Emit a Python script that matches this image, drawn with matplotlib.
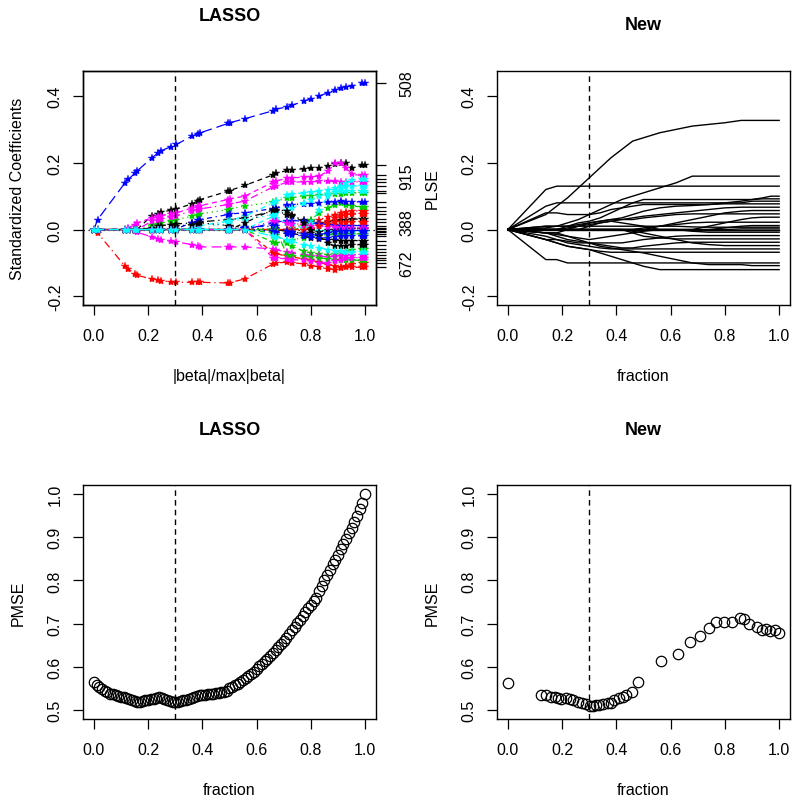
import numpy as np
import matplotlib.pyplot as plt

plt.rcParams['font.family'] = ['Liberation Sans', 'DejaVu Sans']
plt.rcParams['font.size'] = 11.5

# ---------- LASSO coefficient paths (top left) ----------
lasso_frac = [0.0, 0.014, 0.115, 0.127, 0.15, 0.159, 0.214, 0.238, 0.248, 0.283,
              0.304, 0.362, 0.384, 0.393, 0.495, 0.501, 0.556, 0.661, 0.67, 0.712,
              0.73, 0.774, 0.802, 0.83, 0.863, 0.89, 0.91, 0.93, 0.953, 0.99, 1.0]

lasso_coef_a = [
    [0] * 6 + [0.042, 0.048, 0.052, 0.058, 0.062, 0.077, 0.087, 0.09, 0.115, 0.117, 0.132, 0.164, 0.168,
               0.177, 0.179, 0.182, 0.183, 0.185, 0.19, 0.196, 0.2, 0.198, 0.185, 0.193, 0.194],
    [0, -0.01, -0.11, -0.118, -0.133, -0.137, -0.148, -0.151, -0.153, -0.157, -0.158, -0.158, -0.158,
     -0.158, -0.16, -0.159, -0.148, -0.103, -0.1, -0.098, -0.099, -0.103, -0.108, -0.112, -0.118, -0.12,
     -0.115, -0.108, -0.103, -0.1, -0.1],
    [0] * 6 + [0.015, 0.018, 0.02, 0.025, 0.03, 0.04, 0.045, 0.047, 0.06, 0.062, 0.07, 0.083, 0.085, 0.094,
               0.096, 0.1, 0.102, 0.104, 0.106, 0.107, 0.108, 0.109, 0.109, 0.11, 0.11],
    [0, 0.03, 0.14, 0.15, 0.168, 0.175, 0.215, 0.23, 0.236, 0.248, 0.255, 0.28, 0.287, 0.29, 0.318, 0.32,
     0.332, 0.356, 0.36, 0.368, 0.372, 0.385, 0.392, 0.4, 0.41, 0.418, 0.424, 0.428, 0.43, 0.438, 0.439],
    [0] * 11 + [0.005, 0.01, 0.012, 0.025, 0.027, 0.04, 0.08, 0.085, 0.105, 0.107, 0.11, 0.112, 0.115,
                0.12, 0.125, 0.128, 0.13, 0.13, 0.131, 0.131],
    [0, 0, 0, 0.005, 0.015, 0.02, 0.035, 0.04, 0.042, 0.047, 0.05, 0.065, 0.07, 0.072, 0.09, 0.092, 0.1,
     0.142, 0.145, 0.154, 0.155, 0.157, 0.158, 0.16, 0.175, 0.2, 0.198, 0.185, 0.165, 0.162, 0.162],
    [0] * 6 + [0.005, 0.01, 0.012, 0.015, 0.017, 0.02, 0.022, 0.023, 0.03, 0.03, 0.035, 0.055, 0.057, 0.045,
               0.04, 0.03, 0.025, 0.02, 0.022, 0.025, 0.028, 0.03, 0.031, 0.032, 0.032],
    [0] * 19 + [0.0, 0.005, 0.015, 0.022, 0.03, 0.038, 0.045, 0.05, 0.053, 0.055, 0.057, 0.057],
    [0] * 17 + [0.0, 0.0, -0.005, -0.003, 0.01, 0.03, 0.05, 0.065, 0.075, 0.08, 0.075, 0.07, 0.068, 0.068],
    [0] * 10 + [0.003, 0.02, 0.028, 0.03, 0.045, 0.047, 0.05, 0.063, 0.065, 0.074, 0.075, 0.077, 0.078,
                0.08, 0.082, 0.083, 0.085, 0.084, 0.083, 0.083, 0.083],
]
lasso_coef_b = [
    [0] * 17 + [0.04, 0.035, 0.02, 0.015, 0.004, 0.0, -0.003, -0.005, -0.006, -0.007, -0.007, -0.007,
                -0.007, -0.007],
    [0] * 6 + [0.025, 0.03, 0.032, 0.038, 0.042, 0.055, 0.06, 0.062, 0.075, 0.077, 0.085, 0.128, 0.13, 0.142,
               0.142, 0.143, 0.143, 0.144, 0.144, 0.144, 0.143, 0.143, 0.143, 0.143, 0.143],
    [0] * 10 + [0.01, 0.015, 0.018, 0.02, 0.012, 0.011, 0.006, 0.0, 0.0, -0.005, -0.008, -0.01, -0.01,
                -0.006, -0.002, 0.0, 0.001, 0.002, 0.002, 0.002, 0.002],
    [0] * 21 + [0.0, 0.005, 0.015, 0.025, 0.035, 0.04, 0.045, 0.046, 0.047, 0.047],
    [0] * 17 + [-0.038, -0.04, -0.035, -0.03, -0.025, -0.02, -0.017, -0.015, -0.014, -0.013, -0.013,
                -0.013, -0.013, -0.013],
    [0] * 17 + [0.02, 0.022, 0.027, 0.027, 0.025, 0.02, 0.018, 0.015, 0.013, 0.012, 0.012, 0.012, 0.012,
                0.012],
    [0] * 22 + [0.02, 0.06, 0.1, 0.12, 0.13, 0.14, 0.148, 0.152, 0.152],
    [0] * 17 + [0.027, 0.025, 0.02, 0.018, 0.015, 0.012, 0.01, 0.008, 0.007, 0.006, 0.006, 0.006, 0.006,
                0.006],
    [0] * 19 + [-0.005, -0.01, -0.02, -0.025, -0.028, -0.03, -0.032, -0.033, -0.033, -0.033, -0.033, -0.033],
    [0] * 22 + [0.0, 0.01, 0.018, 0.022, 0.023, 0.023, 0.023, 0.023, 0.023],
]
lasso_coef_c = [
    [0] * 17 + [-0.01, -0.015, -0.04, -0.05, -0.065, -0.07, -0.073, -0.075, -0.073, -0.068, -0.063, -0.06,
                -0.058, -0.058],
    [0] * 14 + [0.0, 0.002, 0.008, 0.01, 0.01, -0.005, -0.008, -0.012, -0.015, -0.015, -0.01, -0.006,
                -0.004, -0.003, -0.003, -0.003, -0.003],
    [0] * 13 + [0.0, 0.025, 0.027, 0.03, 0.045, 0.05, 0.06, 0.065, 0.08, 0.09, 0.1, 0.108, 0.112, 0.115,
                0.117, 0.117, 0.117, 0.117],
    [0] * 4 + [-0.005, -0.008, -0.022, -0.027, -0.03, -0.035, -0.037, -0.045, -0.05, -0.052, -0.052, -0.052,
               -0.052, -0.058, -0.06, -0.068, -0.07, -0.075, -0.078, -0.08, -0.082, -0.08, -0.078, -0.077,
               -0.076, -0.076, -0.076],
    [0] * 16 + [0.02, 0.06, 0.058, 0.057, 0.045, 0.02, 0.0, -0.02, -0.04, -0.05, -0.05, -0.048, -0.046,
                -0.045, -0.045],
    [0] * 17 + [-0.07, -0.072, -0.08, -0.082, -0.088, -0.092, -0.098, -0.105, -0.11, -0.112, -0.113, -0.113,
                -0.113, -0.113],
    [0] * 19 + [-0.075, -0.078, -0.08, -0.082, -0.085, -0.088, -0.09, -0.091, -0.092, -0.092, -0.092, -0.092],
    [0] * 17 + [-0.005, -0.008, -0.012, -0.015, -0.02, -0.022, -0.025, -0.025, -0.022, -0.02, -0.019, -0.019,
                -0.019, -0.019],
    [0] * 17 + [-0.02, -0.022, -0.03, -0.035, -0.045, -0.05, -0.055, -0.06, -0.063, -0.065, -0.067, -0.067,
                -0.067, -0.067],
    [0] * 17 + [-0.085, -0.085, -0.088, -0.09, -0.092, -0.095, -0.1, -0.1, -0.095, -0.09, -0.086, -0.085,
                -0.084, -0.084],
]
# variable numbers written on the right axis (index of path -> label)
right_labels = {3: '508', 5: '915', 19: '388', 1: '672'}

# ---------- "New" method paths (top right) ----------
new_frac = [0.0, 0.14, 0.18, 0.22, 0.26, 0.30, 0.34, 0.38, 0.42, 0.46, 0.50,
            0.56, 0.62, 0.68, 0.74, 0.80, 0.86, 0.90, 0.94, 0.97, 1.0]
new_coef = [
    [0, 0.045, 0.07, 0.095, 0.125, 0.155, 0.185, 0.215, 0.24, 0.265, 0.275, 0.29, 0.30, 0.31, 0.315, 0.32,
     0.327, 0.327, 0.327, 0.327, 0.327],
    [0, 0.005, 0.01, 0.02, 0.03, 0.045, 0.06, 0.075, 0.09, 0.1, 0.11, 0.125, 0.14, 0.16, 0.16, 0.16, 0.16,
     0.16, 0.16, 0.16, 0.16],
    [0, 0.12] + [0.13] * 19,
    [0, 0.07] + [0.08] * 15 + [0.085] * 4,
    [0, 0.0, 0.0, 0.01, 0.02, 0.025, 0.035, 0.05, 0.065, 0.08, 0.09, 0.09, 0.09, 0.09, 0.09, 0.09, 0.09,
     0.09, 0.095, 0.1, 0.1],
    [0, 0.05, 0.05, 0.045, 0.045, 0.045, 0.05, 0.06, 0.065, 0.07, 0.075, 0.075, 0.075, 0.075, 0.075, 0.08,
     0.085, 0.09, 0.092, 0.092, 0.092],
    [0, 0.01, 0.01, 0.01, 0.015, 0.02, 0.025, 0.03, 0.035, 0.045, 0.055, 0.065, 0.07, 0.072, 0.075, 0.077,
     0.077, 0.077, 0.077, 0.077, 0.077],
    [0, 0, 0, 0, 0, 0.01, 0.02, 0.025, 0.03, 0.035, 0.04, 0.045, 0.05, 0.055, 0.06, 0.065, 0.067, 0.067,
     0.067, 0.067, 0.067],
    [0] * 11 + [0.01, 0.02, 0.03, 0.04, 0.05, 0.055, 0.057, 0.057, 0.057, 0.057],
    [0, -0.01, -0.01, 0.0, 0.01, 0.02, 0.025, 0.03, 0.03, 0.03, 0.035, 0.04, 0.045, 0.047, 0.047, 0.047,
     0.047, 0.047, 0.047, 0.047, 0.047],
    [0] * 14 + [0.01, 0.02, 0.03, 0.035, 0.037, 0.037, 0.037],
    [0] * 10 + [0.005, 0.01, 0.015, 0.02, 0.022, 0.022, 0.022, 0.022, 0.022, 0.022, 0.022],
    [0] * 15 + [0.005, 0.01, 0.012, 0.012, 0.012, 0.012],
    [0] + [0.01] * 12 + [0.008] + [0.007] * 7,
    [0, 0.0, 0.0, 0.005, 0.01, 0.015, 0.02, 0.025, 0.02, 0.015, 0.01, 0.0, 0.0, 0.0, 0.0, 0.0, 0.002,
     0.002, 0.002, 0.002, 0.002],
    [0, -0.01, -0.01, -0.02, -0.025, -0.03, -0.025, -0.02, -0.015, -0.01, -0.005, 0.0, 0.0, -0.003, -0.003,
     -0.003, -0.003, -0.003, -0.003, -0.003, -0.003],
    [0] * 13 + [-0.005] + [-0.008] * 7,
    [0, -0.03, -0.03, -0.035, -0.04, -0.04, -0.04, -0.04, -0.04, -0.035, -0.03, -0.025, -0.02] + [-0.018] * 8,
    [0] * 9 + [-0.01, -0.02, -0.025] + [-0.028] * 9,
    [0, -0.01, -0.02, -0.03, -0.035, -0.04, -0.045, -0.05, -0.055, -0.055, -0.05, -0.045, -0.04] + [-0.038] * 8,
    [0] * 9 + [-0.005, -0.01, -0.02, -0.03, -0.04, -0.045] + [-0.048] * 6,
    [0, -0.02, -0.03, -0.04, -0.045, -0.05, -0.055] + [-0.058] * 14,
    [0, -0.03, -0.04, -0.05, -0.055, -0.06, -0.065] + [-0.068] * 14,
    [0, -0.09, -0.09] + [-0.1] * 18,
    [0, -0.01, -0.015, -0.02, -0.03, -0.04, -0.05, -0.055, -0.06, -0.065, -0.07, -0.08, -0.09, -0.1, -0.105,
     -0.105, -0.105, -0.108, -0.108, -0.108, -0.108],
    [0, -0.03, -0.04, -0.05, -0.055, -0.06, -0.07, -0.08, -0.09, -0.1, -0.11] + [-0.12] * 10,
    [0] * 21,
]

# ---------- PMSE, LASSO (bottom left) ----------
lasso_pmse_frac = np.round(np.arange(101) / 100, 2)
lasso_pmse = [0.564, 0.558, 0.553, 0.549, 0.545, 0.541, 0.538, 0.536, 0.534, 0.532,
              0.530, 0.529, 0.527, 0.525, 0.523, 0.521, 0.519, 0.519, 0.520, 0.522,
              0.524, 0.525, 0.526, 0.528, 0.529, 0.528, 0.526, 0.523, 0.521, 0.519,
              0.518, 0.519, 0.520, 0.522, 0.524, 0.526, 0.528, 0.530, 0.532, 0.534,
              0.535, 0.535, 0.536, 0.537, 0.538, 0.539, 0.540, 0.541, 0.542, 0.543,
              0.550, 0.554, 0.558, 0.561, 0.565, 0.569, 0.573, 0.578, 0.583, 0.589,
              0.595, 0.601, 0.607, 0.613, 0.619, 0.625, 0.632, 0.639, 0.646, 0.653,
              0.660, 0.667, 0.675, 0.684, 0.693, 0.701, 0.709, 0.717, 0.726, 0.735,
              0.744, 0.752, 0.760, 0.776, 0.788, 0.800, 0.812, 0.825, 0.838, 0.848,
              0.860, 0.872, 0.885, 0.897, 0.910, 0.922, 0.935, 0.950, 0.965, 0.980,
              1.000]

# ---------- PMSE, New (bottom right) ----------
new_pmse_frac = [0.0, 0.123, 0.141, 0.16, 0.172, 0.184, 0.196, 0.215, 0.229, 0.239, 0.258,
                 0.274, 0.288, 0.301, 0.313, 0.325, 0.337, 0.352, 0.368, 0.38, 0.393, 0.411,
                 0.423, 0.436, 0.458, 0.481, 0.564, 0.626, 0.671, 0.709, 0.742, 0.769, 0.795,
                 0.825, 0.856, 0.871, 0.89, 0.918, 0.936, 0.951, 0.967, 0.985, 1.0]
new_pmse = [0.563, 0.534, 0.535, 0.531, 0.529, 0.527, 0.525, 0.527, 0.525, 0.522, 0.519,
            0.515, 0.513, 0.510, 0.510, 0.512, 0.512, 0.513, 0.515, 0.517, 0.523, 0.527,
            0.529, 0.535, 0.542, 0.564, 0.613, 0.629, 0.658, 0.671, 0.689, 0.703, 0.703,
            0.703, 0.714, 0.711, 0.698, 0.692, 0.685, 0.687, 0.683, 0.685, 0.679]

r_cols = ['black', '#FF0000', '#00CD00', '#0000FF', '#00FFFF', '#FF00FF']
r_lty = [(0, (4, 3)), (0, (6, 3, 1, 3)), (0, (1, 3)), (0, (8, 4)), (0, (1, 3, 4, 3))]
xt = [0, 0.2, 0.4, 0.6, 0.8, 1.0]
xtl = ['0.0', '0.2', '0.4', '0.6', '0.8', '1.0']


def r_style(ax, ylim, yt, ytl):
    ax.set_xlim(-0.04, 1.04)
    ax.set_ylim(*ylim)
    ax.set_xticks(xt)
    ax.set_xticklabels(xtl)
    ax.set_yticks(yt)
    ax.set_yticklabels(ytl, rotation=90, va='center')
    ax.tick_params(direction='out', length=7.2, width=0.9, labelsize=11.5)
    ax.tick_params(axis='x', pad=9.5)
    ax.tick_params(axis='y', pad=7.3)
    for s in ax.spines.values():
        s.set_linewidth(1.0)
    ax.axvline(0.3, color='black', ls=(0, (4, 3)), lw=1)


def r_xlabel(ax, text):
    ax.set_xlabel(text, fontsize=11.5)
    ax.xaxis.set_label_coords(0.5, -0.302)
    ax.xaxis.label.set_va('center')


def r_ylabel(ax, text):
    ax.set_ylabel(text, fontsize=11.5)
    ax.yaxis.set_label_coords(-0.222, 0.5)
    ax.yaxis.label.set_va('center')


def r_title(ax, text, y):
    ax.text(0.5, y, text, transform=ax.transAxes, ha='center', va='center',
            fontsize=13, fontweight='bold')


fig = plt.figure(figsize=(8, 8.04), dpi=100)
W, H = 800, 804
ax1 = fig.add_axes([83 / W, 1 - 306 / H, 293 / W, 234 / H])
ax2 = fig.add_axes([497 / W, 1 - 306 / H, 293 / W, 234 / H])
ax3 = fig.add_axes([83 / W, 1 - 720 / H, 293 / W, 234 / H])
ax4 = fig.add_axes([497 / W, 1 - 720 / H, 293 / W, 234 / H])

top_ylim = (-0.226, 0.475)
top_yt = [-0.2, 0.0, 0.2, 0.4]
top_ytl = ['-0.2', '0.0', '0.2', '0.4']
bot_ylim = (0.479, 1.021)
bot_yt = [0.5, 0.6, 0.7, 0.8, 0.9, 1.0]
bot_ytl = ['0.5', '0.6', '0.7', '0.8', '0.9', '1.0']

# top left: lasso paths
lasso_coef = np.array(lasso_coef_a + lasso_coef_b + lasso_coef_c)
order = [i for i in range(len(lasso_coef)) if i != 28] + [28]
ax1.axhline(0, color='black', ls=(0, (1, 3)), lw=0.9)
for i in order:
    c = r_cols[i % 6]
    ax1.plot(lasso_frac, lasso_coef[i], color=c, ls=r_lty[i % 5], lw=0.9,
             marker='*', ms=6, mfc=c, mec=c, mew=0.3)
r_style(ax1, top_ylim, top_yt, top_ytl)
r_xlabel(ax1, '|beta|/max|beta|')
r_ylabel(ax1, 'Standardized Coefficients')
r_title(ax1, 'LASSO', 1.239)

ax1r = ax1.twinx()
ax1r.set_ylim(*top_ylim)
final_vals = lasso_coef[:, -1]
ax1r.set_yticks(final_vals)
ax1r.set_yticklabels([right_labels.get(i, '') for i in range(len(final_vals))],
                     rotation=90, va='center')
ax1r.tick_params(direction='out', length=7.2, width=0.9, labelsize=11.5, pad=9.5)
ax1r.set_ylabel('PLSE', fontsize=11.5, rotation=90)
ax1r.yaxis.set_label_coords(1.191, 0.5)
ax1r.yaxis.label.set_va('center')
for s in ax1r.spines.values():
    s.set_linewidth(1.0)

# top right: new method paths
for path in new_coef:
    ax2.plot(new_frac, path, color='black', lw=1.0)
r_style(ax2, top_ylim, top_yt, top_ytl)
r_xlabel(ax2, 'fraction')
r_title(ax2, 'New', 1.197)

# bottom left
ax3.plot(lasso_pmse_frac, lasso_pmse, 'o', mfc='none', mec='black', ms=7.5, mew=0.9)
r_style(ax3, bot_ylim, bot_yt, bot_ytl)
r_xlabel(ax3, 'fraction')
r_ylabel(ax3, 'PMSE')
r_title(ax3, 'LASSO', 1.239)

# bottom right
ax4.plot(new_pmse_frac, new_pmse, 'o', mfc='none', mec='black', ms=7.5, mew=0.9)
r_style(ax4, bot_ylim, bot_yt, bot_ytl)
r_xlabel(ax4, 'fraction')
r_ylabel(ax4, 'PMSE')
r_title(ax4, 'New', 1.239)

fig.savefig('out.png', dpi=100)
